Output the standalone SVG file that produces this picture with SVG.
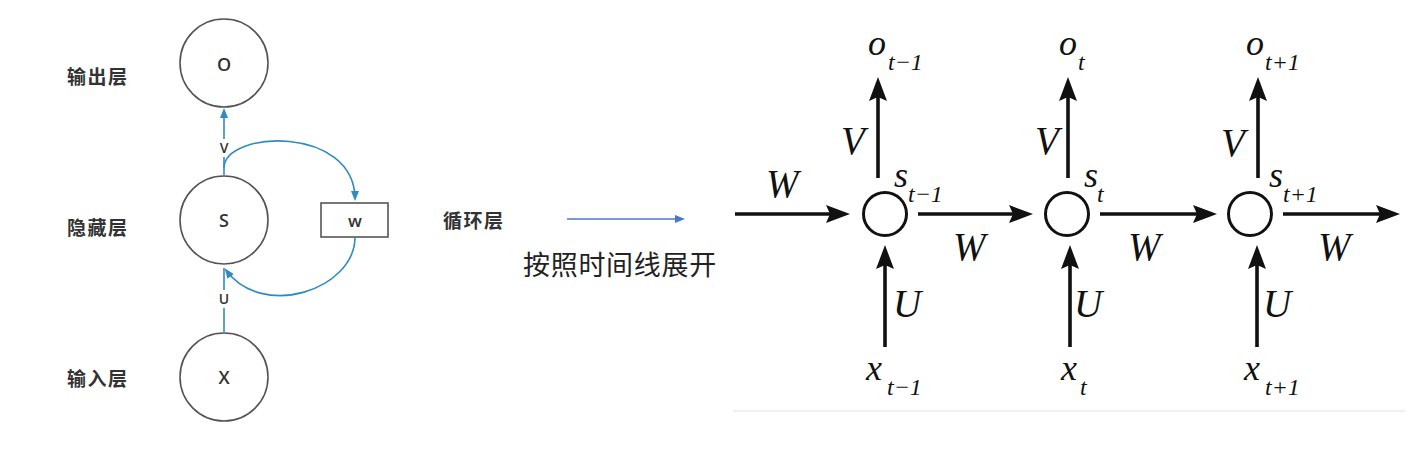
<svg xmlns="http://www.w3.org/2000/svg" width="1412" height="454" viewBox="0 0 1412 454">
<style>
.cn{font-family:"Noto Sans CJK SC","Noto Sans",sans-serif;fill:#333;font-weight:bold;font-size:19px;letter-spacing:1.5px}
.cnbig{font-family:"Noto Sans CJK SC","Noto Sans",sans-serif;fill:#222;font-size:27px;letter-spacing:0.7px}
.lt{font-family:"Open Sans","Liberation Sans",sans-serif;fill:#333;font-weight:600;font-size:18px;text-anchor:middle}
.sm{font-family:"Open Sans","Liberation Sans",sans-serif;fill:#333;font-weight:600;font-size:14px;text-anchor:middle}
.node{fill:none;stroke:#555;stroke-width:1.6}
.blue{fill:none;stroke:#2f8bc2;stroke-width:1.6}
.rc{fill:none;stroke:#111;stroke-width:3}
.bk{fill:none;stroke:#111;stroke-width:3.6}
.it{font-family:"Liberation Serif","DejaVu Serif",serif;font-style:italic;fill:#111;font-size:36px}
.itb{font-family:"Liberation Serif","DejaVu Serif",serif;font-style:italic;fill:#111;font-size:39px}
.sub{font-family:"Liberation Serif","DejaVu Serif",serif;font-style:italic;fill:#111;font-size:24px}
</style>
<defs>
<marker id="ab" markerUnits="userSpaceOnUse" viewBox="0 0 24 18" markerWidth="24" markerHeight="18" refX="18" refY="9" orient="auto">
<path d="M0,0 L24,9 L0,18 L4,9 z" fill="#111"/>
</marker>
<marker id="ablue" markerUnits="userSpaceOnUse" viewBox="0 0 10 8" markerWidth="10" markerHeight="8" refX="8" refY="4" orient="auto">
<path d="M0,0 L10,4 L0,8 z" fill="#2f8bc2"/>
</marker>
<marker id="aperi" markerUnits="userSpaceOnUse" viewBox="0 0 10 8" markerWidth="10" markerHeight="8" refX="8" refY="4" orient="auto">
<path d="M0,0 L10,4 L0,8 z" fill="#4a78c8"/>
</marker>
</defs>
<rect width="1412" height="454" fill="#fff"/>
<line x1="733" y1="411" x2="1405" y2="411" stroke="#f0f0f0" stroke-width="2"/>

<g id="labels-left">
<text class="cn" x="67" y="84">输出层</text>
<text class="cn" x="67" y="235">隐藏层</text>
<text class="cn" x="67" y="386">输入层</text>
<text class="cn" x="443" y="228">循环层</text>
<text class="cnbig" x="523" y="275">按照时间线展开</text>
</g>

<g id="node-O"><circle class="node" cx="224" cy="63" r="44"/><text class="lt" x="224" y="71">O</text></g>
<g id="node-S"><circle class="node" cx="224" cy="220" r="44"/><text class="lt" x="224" y="227">S</text></g>
<g id="node-X"><circle class="node" cx="224" cy="377" r="44"/><text class="lt" x="224" y="384">X</text></g>
<g id="node-w"><rect class="node" x="321" y="203" width="67" height="34"/><text class="lt" x="355" y="227" style="font-size:17px">w</text></g>

<g id="connectors-left">
<path class="blue" d="M224,175 L224,157"/>
<path class="blue" d="M224,139 L224,110" marker-end="url(#ablue)"/>
<text class="sm" x="224" y="153">V</text>
<path class="blue" d="M224,168 C224,130 355,125 355,199" marker-end="url(#ablue)"/>
<path class="blue" d="M355,237 C355,290 262,320 226,270" marker-end="url(#ablue)"/>
<path class="blue" d="M224,332 L224,308"/>
<path class="blue" d="M224,290 L224,268"/>
<text class="sm" x="224" y="304">U</text>
<path d="M567,219 L683,219" fill="none" stroke="#4a78c8" stroke-width="1.5" marker-end="url(#aperi)"/>
</g>

<g id="node-s1"><circle class="rc" cx="885" cy="214" r="21.5"/></g>
<g id="node-s2"><circle class="rc" cx="1067" cy="214" r="21.5"/></g>
<g id="node-s3"><circle class="rc" cx="1250" cy="214" r="21.5"/></g>

<g id="connectors-right">
<path class="bk" d="M735,214 L844,214" marker-end="url(#ab)"/>
<path class="bk" d="M918,214 L1027,214" marker-end="url(#ab)"/>
<path class="bk" d="M1100,214 L1211,214" marker-end="url(#ab)"/>
<path class="bk" d="M1283,214 L1394,214" marker-end="url(#ab)"/>
<path class="bk" d="M878,178 L878,83" marker-end="url(#ab)"/>
<path class="bk" d="M1068,178 L1068,83" marker-end="url(#ab)"/>
<path class="bk" d="M1258,178 L1258,83" marker-end="url(#ab)"/>
<path class="bk" d="M885,347 L885,251" marker-end="url(#ab)"/>
<path class="bk" d="M1070,347 L1070,251" marker-end="url(#ab)"/>
<path class="bk" d="M1257,347 L1257,251" marker-end="url(#ab)"/>
</g>

<g id="labels-right">
<text class="itb" x="766" y="197">W</text>
<text class="itb" x="953" y="260">W</text>
<text class="itb" x="1128" y="260">W</text>
<text class="itb" x="1318" y="260">W</text>
<text class="itb" x="841" y="154">V</text>
<text class="itb" x="1035" y="154">V</text>
<text class="itb" x="1221" y="156">V</text>
<text class="itb" x="893" y="317">U</text>
<text class="itb" x="1074" y="317">U</text>
<text class="itb" x="1263" y="317">U</text>

<text class="it" x="868" y="55">o</text><text class="sub" x="888" y="70">t−1</text>
<text class="it" x="1059" y="55">o</text><text class="sub" x="1078" y="70">t</text>
<text class="it" x="1246" y="55">o</text><text class="sub" x="1265" y="70">t+1</text>

<text class="it" x="894" y="187">s</text><text class="sub" x="908" y="202">t−1</text>
<text class="it" x="1084" y="187">s</text><text class="sub" x="1097" y="202">t</text>
<text class="it" x="1269" y="187">s</text><text class="sub" x="1283" y="202">t+1</text>

<text class="it" x="866" y="380">x</text><text class="sub" x="887" y="395">t−1</text>
<text class="it" x="1061" y="380">x</text><text class="sub" x="1080" y="395">t</text>
<text class="it" x="1244" y="380">x</text><text class="sub" x="1265" y="395">t+1</text>
</g>
</svg>
